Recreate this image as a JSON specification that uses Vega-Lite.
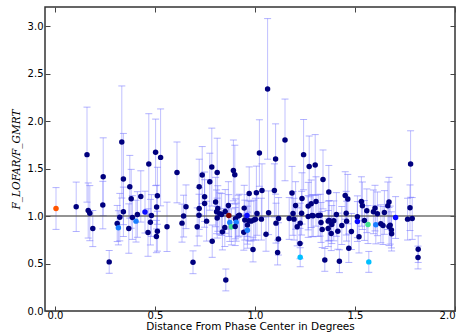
{
"$schema": "https://vega.github.io/schema/vega-lite/v6.json",
"width": 410, "height": 304,
"autosize": {"type": "none"},
"padding": {"left": 45, "top": 7, "right": 9, "bottom": 25},
"background": "white",
"config": {
  "view": {"stroke": "#333333", "strokeWidth": 1.5},
  "axis": {"labelFont": "DejaVu Sans", "titleFont": "DejaVu Sans", "labelFontSize": 10, "labelColor": "#000000", "tickColor": "#444444", "tickWidth": 1, "domain": false, "grid": false, "titleFontWeight": "normal", "titleColor": "#000000"}
},
"data": {"values": [
{"x":0.005,"y":1.079,"lo":0.859,"hi":1.299,"c":"o"},
{"x":0.106,"y":1.097,"lo":0.837,"hi":1.357,"c":"n"},
{"x":0.160,"y":1.646,"lo":1.146,"hi":2.146,"c":"n"},
{"x":0.166,"y":1.058,"lo":0.768,"hi":1.348,"c":"n"},
{"x":0.174,"y":1.030,"lo":0.740,"hi":1.320,"c":"n"},
{"x":0.189,"y":0.868,"lo":0.678,"hi":1.058,"c":"n"},
{"x":0.241,"y":1.413,"lo":1.003,"hi":1.823,"c":"n"},
{"x":0.239,"y":1.115,"lo":0.865,"hi":1.365,"c":"n"},
{"x":0.271,"y":0.517,"lo":0.397,"hi":0.637,"c":"n"},
{"x":0.311,"y":0.921,"lo":0.731,"hi":1.111,"c":"n"},
{"x":0.317,"y":0.876,"lo":0.696,"hi":1.056,"c":"a"},
{"x":0.324,"y":0.988,"lo":0.738,"hi":1.238,"c":"n"},
{"x":0.334,"y":1.779,"lo":1.189,"hi":2.369,"c":"n"},
{"x":0.342,"y":1.389,"lo":0.909,"hi":1.869,"c":"n"},
{"x":0.342,"y":1.044,"lo":0.784,"hi":1.304,"c":"n"},
{"x":0.374,"y":1.308,"lo":0.978,"hi":1.638,"c":"n"},
{"x":0.381,"y":1.181,"lo":0.871,"hi":1.491,"c":"n"},
{"x":0.387,"y":0.984,"lo":0.754,"hi":1.214,"c":"n"},
{"x":0.369,"y":0.868,"lo":0.608,"hi":1.128,"c":"n"},
{"x":0.405,"y":0.946,"lo":0.726,"hi":1.166,"c":"a"},
{"x":0.412,"y":1.016,"lo":0.776,"hi":1.256,"c":"n"},
{"x":0.429,"y":1.206,"lo":0.936,"hi":1.476,"c":"n"},
{"x":0.450,"y":1.041,"lo":0.821,"hi":1.261,"c":"b"},
{"x":0.469,"y":1.547,"lo":1.017,"hi":2.077,"c":"n"},
{"x":0.482,"y":1.005,"lo":0.785,"hi":1.225,"c":"n"},
{"x":0.477,"y":0.935,"lo":0.695,"hi":1.175,"c":"n"},
{"x":0.465,"y":0.826,"lo":0.576,"hi":1.076,"c":"n"},
{"x":0.503,"y":1.670,"lo":1.320,"hi":2.020,"c":"n"},
{"x":0.528,"y":1.617,"lo":1.107,"hi":2.127,"c":"n"},
{"x":0.512,"y":1.213,"lo":0.913,"hi":1.513,"c":"n"},
{"x":0.508,"y":1.094,"lo":0.864,"hi":1.324,"c":"n"},
{"x":0.512,"y":0.840,"lo":0.630,"hi":1.050,"c":"n"},
{"x":0.507,"y":0.784,"lo":0.614,"hi":0.954,"c":"n"},
{"x":0.560,"y":0.886,"lo":0.626,"hi":1.146,"c":"n"},
{"x":0.610,"y":1.459,"lo":1.139,"hi":1.779,"c":"n"},
{"x":0.655,"y":1.097,"lo":0.867,"hi":1.327,"c":"n"},
{"x":0.643,"y":0.999,"lo":0.779,"hi":1.219,"c":"n"},
{"x":0.635,"y":0.925,"lo":0.725,"hi":1.125,"c":"n"},
{"x":0.690,"y":0.513,"lo":0.393,"hi":0.633,"c":"n"},
{"x":0.711,"y":0.886,"lo":0.686,"hi":1.086,"c":"n"},
{"x":0.720,"y":1.009,"lo":0.789,"hi":1.229,"c":"n"},
{"x":0.721,"y":1.079,"lo":0.859,"hi":1.299,"c":"n"},
{"x":0.721,"y":1.308,"lo":1.018,"hi":1.598,"c":"n"},
{"x":0.736,"y":1.431,"lo":1.131,"hi":1.731,"c":"n"},
{"x":0.748,"y":1.203,"lo":0.943,"hi":1.463,"c":"n"},
{"x":0.748,"y":1.132,"lo":0.882,"hi":1.382,"c":"n"},
{"x":0.758,"y":0.946,"lo":0.736,"hi":1.156,"c":"n"},
{"x":0.774,"y":1.361,"lo":1.061,"hi":1.661,"c":"n"},
{"x":0.784,"y":1.515,"lo":1.105,"hi":1.925,"c":"n"},
{"x":0.786,"y":0.735,"lo":0.565,"hi":0.905,"c":"n"},
{"x":0.803,"y":1.147,"lo":0.887,"hi":1.407,"c":"n"},
{"x":0.811,"y":1.459,"lo":1.099,"hi":1.819,"c":"n"},
{"x":0.814,"y":1.079,"lo":0.839,"hi":1.319,"c":"n"},
{"x":0.808,"y":1.044,"lo":0.814,"hi":1.274,"c":"n"},
{"x":0.811,"y":0.978,"lo":0.768,"hi":1.188,"c":"n"},
{"x":0.824,"y":1.023,"lo":0.803,"hi":1.243,"c":"n"},
{"x":0.833,"y":1.016,"lo":0.796,"hi":1.236,"c":"n"},
{"x":0.837,"y":0.833,"lo":0.643,"hi":1.023,"c":"n"},
{"x":0.851,"y":1.048,"lo":0.818,"hi":1.278,"c":"n"},
{"x":0.849,"y":0.879,"lo":0.679,"hi":1.079,"c":"n"},
{"x":0.867,"y":1.111,"lo":0.861,"hi":1.361,"c":"n"},
{"x":0.869,"y":1.005,"lo":0.785,"hi":1.225,"c":"r"},
{"x":0.874,"y":0.932,"lo":0.732,"hi":1.132,"c":"a"},
{"x":0.882,"y":0.886,"lo":0.696,"hi":1.076,"c":"g"},
{"x":0.854,"y":0.327,"lo":0.212,"hi":0.442,"c":"n"},
{"x":0.892,"y":1.480,"lo":1.160,"hi":1.800,"c":"n"},
{"x":0.899,"y":1.435,"lo":1.125,"hi":1.745,"c":"n"},
{"x":0.902,"y":0.970,"lo":0.760,"hi":1.180,"c":"n"},
{"x":0.906,"y":0.935,"lo":0.735,"hi":1.135,"c":"a"},
{"x":0.901,"y":0.889,"lo":0.689,"hi":1.089,"c":"n"},
{"x":0.916,"y":0.999,"lo":0.779,"hi":1.219,"c":"n"},
{"x":0.922,"y":1.009,"lo":0.789,"hi":1.229,"c":"n"},
{"x":0.946,"y":1.083,"lo":0.843,"hi":1.323,"c":"n"},
{"x":0.949,"y":0.957,"lo":0.747,"hi":1.167,"c":"n"},
{"x":0.944,"y":0.830,"lo":0.640,"hi":1.020,"c":"n"},
{"x":0.960,"y":1.005,"lo":0.785,"hi":1.225,"c":"b"},
{"x":0.962,"y":0.904,"lo":0.704,"hi":1.104,"c":"n"},
{"x":0.962,"y":0.851,"lo":0.661,"hi":1.041,"c":"a"},
{"x":0.971,"y":1.237,"lo":0.957,"hi":1.517,"c":"n"},
{"x":0.969,"y":0.949,"lo":0.739,"hi":1.159,"c":"n"},
{"x":0.980,"y":0.946,"lo":0.736,"hi":1.156,"c":"n"},
{"x":0.994,"y":0.957,"lo":0.747,"hi":1.167,"c":"n"},
{"x":0.990,"y":0.647,"lo":0.517,"hi":0.777,"c":"n"},
{"x":1.007,"y":1.245,"lo":0.965,"hi":1.525,"c":"n"},
{"x":1.010,"y":1.027,"lo":0.797,"hi":1.257,"c":"n"},
{"x":1.022,"y":1.663,"lo":1.313,"hi":2.013,"c":"n"},
{"x":1.002,"y":0.967,"lo":0.747,"hi":1.187,"c":"n"},
{"x":1.032,"y":0.967,"lo":0.747,"hi":1.187,"c":"n"},
{"x":1.035,"y":1.269,"lo":0.989,"hi":1.549,"c":"n"},
{"x":1.063,"y":2.338,"lo":1.598,"hi":3.078,"c":"n"},
{"x":1.055,"y":0.809,"lo":0.629,"hi":0.989,"c":"n"},
{"x":1.068,"y":1.034,"lo":0.804,"hi":1.264,"c":"n"},
{"x":1.097,"y":1.269,"lo":0.989,"hi":1.549,"c":"n"},
{"x":1.103,"y":1.600,"lo":1.230,"hi":1.970,"c":"n"},
{"x":1.118,"y":0.974,"lo":0.754,"hi":1.194,"c":"n"},
{"x":1.105,"y":0.925,"lo":0.715,"hi":1.135,"c":"n"},
{"x":1.117,"y":0.759,"lo":0.589,"hi":0.929,"c":"n"},
{"x":1.113,"y":0.615,"lo":0.485,"hi":0.745,"c":"n"},
{"x":1.150,"y":1.801,"lo":1.371,"hi":2.231,"c":"n"},
{"x":1.171,"y":0.974,"lo":0.754,"hi":1.194,"c":"n"},
{"x":1.185,"y":1.242,"lo":0.962,"hi":1.522,"c":"n"},
{"x":1.190,"y":1.027,"lo":0.797,"hi":1.257,"c":"n"},
{"x":1.195,"y":0.967,"lo":0.747,"hi":1.187,"c":"n"},
{"x":1.203,"y":1.111,"lo":0.861,"hi":1.361,"c":"n"},
{"x":1.211,"y":0.886,"lo":0.686,"hi":1.086,"c":"n"},
{"x":1.225,"y":0.710,"lo":0.550,"hi":0.870,"c":"n"},
{"x":1.226,"y":0.566,"lo":0.466,"hi":0.666,"c":"c"},
{"x":1.226,"y":0.925,"lo":0.715,"hi":1.135,"c":"n"},
{"x":1.233,"y":1.030,"lo":0.800,"hi":1.260,"c":"n"},
{"x":1.235,"y":1.185,"lo":0.915,"hi":1.455,"c":"n"},
{"x":1.243,"y":1.646,"lo":1.276,"hi":2.016,"c":"n"},
{"x":1.266,"y":0.995,"lo":0.775,"hi":1.215,"c":"n"},
{"x":1.266,"y":1.104,"lo":0.854,"hi":1.354,"c":"n"},
{"x":1.271,"y":1.522,"lo":1.202,"hi":1.842,"c":"n"},
{"x":1.281,"y":1.129,"lo":0.879,"hi":1.379,"c":"n"},
{"x":1.285,"y":1.005,"lo":0.785,"hi":1.225,"c":"n"},
{"x":1.291,"y":1.002,"lo":0.782,"hi":1.222,"c":"n"},
{"x":1.301,"y":1.537,"lo":1.217,"hi":1.857,"c":"n"},
{"x":1.305,"y":1.153,"lo":0.893,"hi":1.413,"c":"n"},
{"x":1.316,"y":1.005,"lo":0.785,"hi":1.225,"c":"n"},
{"x":1.326,"y":1.009,"lo":0.789,"hi":1.229,"c":"n"},
{"x":1.330,"y":0.932,"lo":0.722,"hi":1.142,"c":"n"},
{"x":1.340,"y":1.385,"lo":1.075,"hi":1.695,"c":"n"},
{"x":1.336,"y":0.858,"lo":0.668,"hi":1.048,"c":"n"},
{"x":1.349,"y":0.538,"lo":0.418,"hi":0.658,"c":"n"},
{"x":1.366,"y":0.946,"lo":0.736,"hi":1.156,"c":"n"},
{"x":1.366,"y":0.868,"lo":0.678,"hi":1.058,"c":"n"},
{"x":1.369,"y":1.252,"lo":0.972,"hi":1.532,"c":"n"},
{"x":1.371,"y":0.953,"lo":0.743,"hi":1.163,"c":"n"},
{"x":1.384,"y":0.910,"lo":0.710,"hi":1.110,"c":"n"},
{"x":1.394,"y":0.949,"lo":0.739,"hi":1.159,"c":"n"},
{"x":1.381,"y":0.816,"lo":0.636,"hi":0.996,"c":"n"},
{"x":1.407,"y":1.016,"lo":0.786,"hi":1.246,"c":"n"},
{"x":1.414,"y":0.840,"lo":0.650,"hi":1.030,"c":"n"},
{"x":1.422,"y":0.524,"lo":0.404,"hi":0.644,"c":"n"},
{"x":1.434,"y":0.900,"lo":0.700,"hi":1.100,"c":"n"},
{"x":1.451,"y":1.216,"lo":0.966,"hi":1.466,"c":"n"},
{"x":1.464,"y":1.178,"lo":0.918,"hi":1.438,"c":"n"},
{"x":1.456,"y":1.030,"lo":0.800,"hi":1.260,"c":"n"},
{"x":1.458,"y":0.946,"lo":0.736,"hi":1.156,"c":"n"},
{"x":1.469,"y":0.661,"lo":0.511,"hi":0.811,"c":"n"},
{"x":1.482,"y":0.837,"lo":0.647,"hi":1.027,"c":"n"},
{"x":1.512,"y":0.992,"lo":0.772,"hi":1.212,"c":"n"},
{"x":1.512,"y":0.942,"lo":0.732,"hi":1.152,"c":"b"},
{"x":1.520,"y":0.781,"lo":0.611,"hi":0.951,"c":"n"},
{"x":1.532,"y":1.153,"lo":0.893,"hi":1.413,"c":"n"},
{"x":1.537,"y":1.108,"lo":0.858,"hi":1.358,"c":"n"},
{"x":1.547,"y":0.953,"lo":0.743,"hi":1.163,"c":"n"},
{"x":1.565,"y":0.910,"lo":0.710,"hi":1.110,"c":"g"},
{"x":1.569,"y":0.517,"lo":0.407,"hi":0.627,"c":"c"},
{"x":1.559,"y":1.055,"lo":0.825,"hi":1.285,"c":"n"},
{"x":1.592,"y":1.044,"lo":0.814,"hi":1.274,"c":"n"},
{"x":1.600,"y":1.083,"lo":0.843,"hi":1.323,"c":"n"},
{"x":1.604,"y":0.907,"lo":0.707,"hi":1.107,"c":"a"},
{"x":1.612,"y":1.023,"lo":0.793,"hi":1.253,"c":"n"},
{"x":1.629,"y":0.918,"lo":0.718,"hi":1.118,"c":"n"},
{"x":1.640,"y":0.900,"lo":0.700,"hi":1.100,"c":"n"},
{"x":1.647,"y":1.037,"lo":0.807,"hi":1.267,"c":"n"},
{"x":1.664,"y":1.108,"lo":0.858,"hi":1.358,"c":"n"},
{"x":1.670,"y":1.147,"lo":0.887,"hi":1.407,"c":"n"},
{"x":1.670,"y":0.889,"lo":0.689,"hi":1.089,"c":"n"},
{"x":1.676,"y":0.904,"lo":0.704,"hi":1.104,"c":"n"},
{"x":1.682,"y":0.854,"lo":0.664,"hi":1.044,"c":"n"},
{"x":1.683,"y":0.812,"lo":0.632,"hi":0.992,"c":"n"},
{"x":1.703,"y":0.984,"lo":0.764,"hi":1.204,"c":"b"},
{"x":1.778,"y":1.547,"lo":1.197,"hi":1.897,"c":"n"},
{"x":1.775,"y":1.087,"lo":0.847,"hi":1.327,"c":"n"},
{"x":1.763,"y":0.967,"lo":0.747,"hi":1.187,"c":"n"},
{"x":1.786,"y":0.974,"lo":0.754,"hi":1.194,"c":"n"},
{"x":1.816,"y":0.651,"lo":0.511,"hi":0.791,"c":"n"},
{"x":1.815,"y":0.563,"lo":0.443,"hi":0.683,"c":"n"}
]},
"layer": [
  {"mark": {"type": "rule", "color": "#7373ff", "opacity": 0.45, "strokeWidth": 1},
   "encoding": {
     "x": {"field": "x", "type": "quantitative", "scale": {"domain": [-0.05, 2.0], "nice": false, "zero": false},
           "axis": {"orient": "bottom", "values": [0, 0.5, 1, 1.5, 2], "format": ".1f", "tickSize": -5, "labelPadding": 4, "title": "Distance From Phase Center in Degrees", "titleFontSize": 10.5, "titlePadding": 1}},
     "y": {"field": "lo", "type": "quantitative", "scale": {"domain": [0, 3.2], "nice": false, "zero": false},
           "axis": {"orient": "left", "values": [0, 0.5, 1, 1.5, 2, 2.5, 3], "format": ".1f", "tickSize": -5, "labelPadding": 7, "title": "F_LOFAR/F_GMRT", "titleFont": "DejaVu Serif", "titleFontStyle": "italic", "titleFontSize": 10.5, "titlePadding": 6}},
     "y2": {"field": "hi"}
   }},
  {"mark": {"type": "tick", "orient": "horizontal", "size": 7, "thickness": 1, "color": "#7373ff", "opacity": 0.55},
   "encoding": {
     "x": {"field": "x", "type": "quantitative", "axis": {"orient": "top", "values": [0, 0.5, 1, 1.5, 2], "labels": false, "tickSize": -5, "title": null}},
     "y": {"field": "lo", "type": "quantitative", "axis": {"orient": "right", "values": [0, 0.5, 1, 1.5, 2, 2.5, 3], "labels": false, "tickSize": -5, "title": null}}
   }},
  {"mark": {"type": "tick", "orient": "horizontal", "size": 7, "thickness": 1, "color": "#7373ff", "opacity": 0.55},
   "encoding": {
     "x": {"field": "x", "type": "quantitative", "axis": null},
     "y": {"field": "hi", "type": "quantitative", "axis": null}
   }},
  {"data": {"values": [{"ref": 1}]},
   "mark": {"type": "rule", "color": "#555555", "strokeWidth": 1.7, "opacity": 0.85},
   "encoding": {"y": {"field": "ref", "type": "quantitative", "axis": null}}},
  {"mark": {"type": "circle", "size": 30, "opacity": 1},
   "encoding": {
     "x": {"field": "x", "type": "quantitative", "axis": null},
     "y": {"field": "y", "type": "quantitative", "axis": null},
     "color": {"field": "c", "type": "nominal", "legend": null,
               "scale": {"domain": ["n", "b", "a", "c", "g", "r", "o"], "range": ["#00007f", "#0a0aff", "#1a7fff", "#00bfff", "#40e090", "#7f0000", "#ff5500"]}}
   }}
],
"resolve": {"axis": {"x": "independent", "y": "independent"}}
}
